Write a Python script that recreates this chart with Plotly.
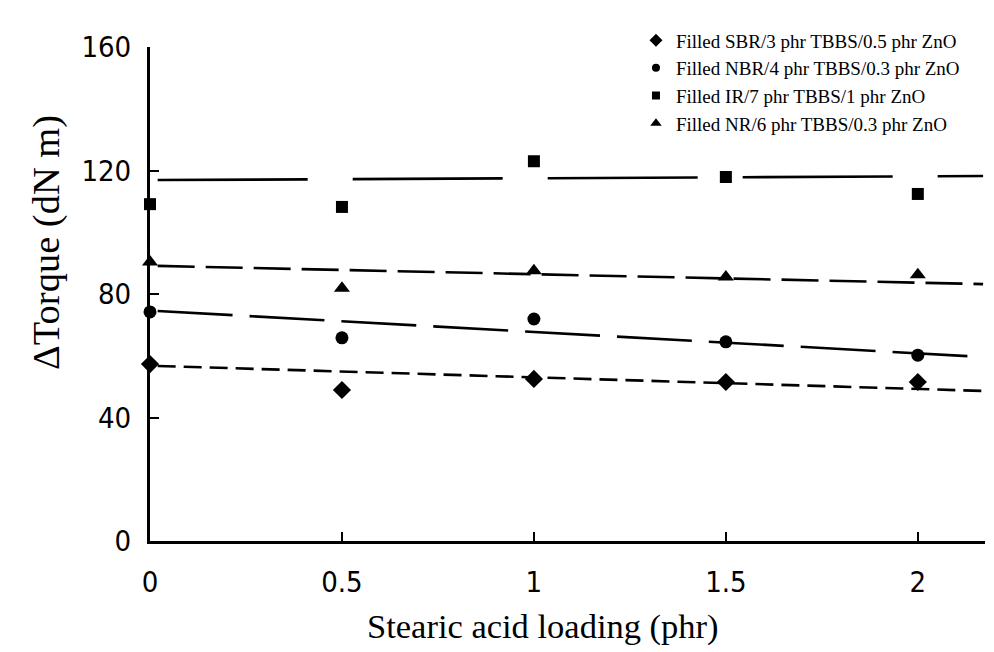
import plotly.graph_objects as go

# ---- data ----
stearic = [0, 0.5, 1, 1.5, 2]
sbr = [57.3, 48.9, 52.5, 51.5, 51.5]
nbr = [74.2, 65.8, 71.9, 64.5, 60.2]
ir = [109.1, 108.2, 123.0, 117.9, 112.4]
nr = [90.4, 81.9, 87.5, 85.5, 86.2]

trend_x = [0.02, 2.17]
sbr_trend = [56.7, 48.6]
nbr_trend = [74.5, 59.6]
ir_trend = [116.9, 118.2]
nr_trend = [89.1, 83.2]

names = [
    "Filled SBR/3 phr TBBS/0.5 phr ZnO",
    "Filled NBR/4 phr TBBS/0.3 phr ZnO",
    "Filled IR/7 phr TBBS/1 phr ZnO",
    "Filled NR/6 phr TBBS/0.3 phr ZnO",
]
x_ticks = [0, 0.5, 1, 1.5, 2]
x_ticklabels = ["0", "0.5", "1", "1.5", "2"]
y_ticks = [0, 40, 80, 120, 160]
x_title = "Stearic acid loading (phr)"
y_title = "ΔTorque (dN m)"

series = [
    (names[0], sbr, sbr_trend, "diamond", "18px,8px", 14, 10),
    (names[1], nbr, nbr_trend, "circle", "75px,17px", 13, 8),
    (names[2], ir, ir_trend, "square", "150px,45px", 12, 8),
    (names[3], nr, nr_trend, "triangle-up", "37px,11px", 14, 10),
]

fig = go.Figure()
for name, ys, tr, sym, dash, sz, lsz in series:
    fig.add_trace(go.Scatter(
        x=trend_x, y=tr, mode="lines", showlegend=False, hoverinfo="skip",
        line=dict(color="black", width=2.6, dash=dash)))
for name, ys, tr, sym, dash, sz, lsz in series:
    fig.add_trace(go.Scatter(
        x=stearic, y=ys, mode="markers", name=name, cliponaxis=False,
        showlegend=False, legendgroup=name,
        marker=dict(symbol=sym, size=sz, color="black")))
for name, ys, tr, sym, dash, sz, lsz in series:
    # legend entry (smaller symbol as in the reference)
    fig.add_trace(go.Scatter(
        x=[None], y=[None], mode="markers", name=name, legendgroup=name,
        marker=dict(symbol=sym, size=lsz, color="black")))

tick_font = dict(family="Liberation Sans Narrow, Arial Narrow, DejaVu Sans Condensed, sans-serif",
                 size=29, color="black")
serif = "Liberation Serif, Times New Roman, serif"

fig.update_layout(
    width=994, height=652,
    margin=dict(l=150, r=9, t=47, b=111),
    paper_bgcolor="white", plot_bgcolor="white",
    showlegend=True,
    legend=dict(x=0.582, y=1.052, xanchor="left", yanchor="top",
                font=dict(family=serif, size=19, color="black"),
                bgcolor="rgba(0,0,0,0)", tracegroupgap=0, itemwidth=30),
    xaxis=dict(range=[0, 2.175], tickvals=x_ticks, ticktext=x_ticklabels,
               showgrid=False, zeroline=False, showline=True, linecolor="black",
               linewidth=3, ticks="inside", ticklen=9, tickwidth=2, tickcolor="black",
               tickfont=tick_font, ticklabelstandoff=13),
    yaxis=dict(range=[0, 160], tickvals=y_ticks,
               showgrid=False, zeroline=False, showline=True, linecolor="black",
               linewidth=3, ticks="inside", ticklen=9, tickwidth=2, tickcolor="black",
               tickfont=tick_font, ticklabelstandoff=10),
    annotations=[
        dict(text=x_title, xref="paper", yref="paper",
             x=(543 - 150) / 835, y=(541 - 626) / 494,
             xanchor="center", yanchor="middle", showarrow=False,
             font=dict(family=serif, size=34.5, color="black")),
        dict(text=y_title, xref="paper", yref="paper", textangle=-90,
             x=(47 - 150) / 835, y=(541 - 243) / 494,
             xanchor="center", yanchor="middle", showarrow=False,
             font=dict(family=serif, size=38.5, color="black")),
    ],
)
fig.write_html("out.html")
